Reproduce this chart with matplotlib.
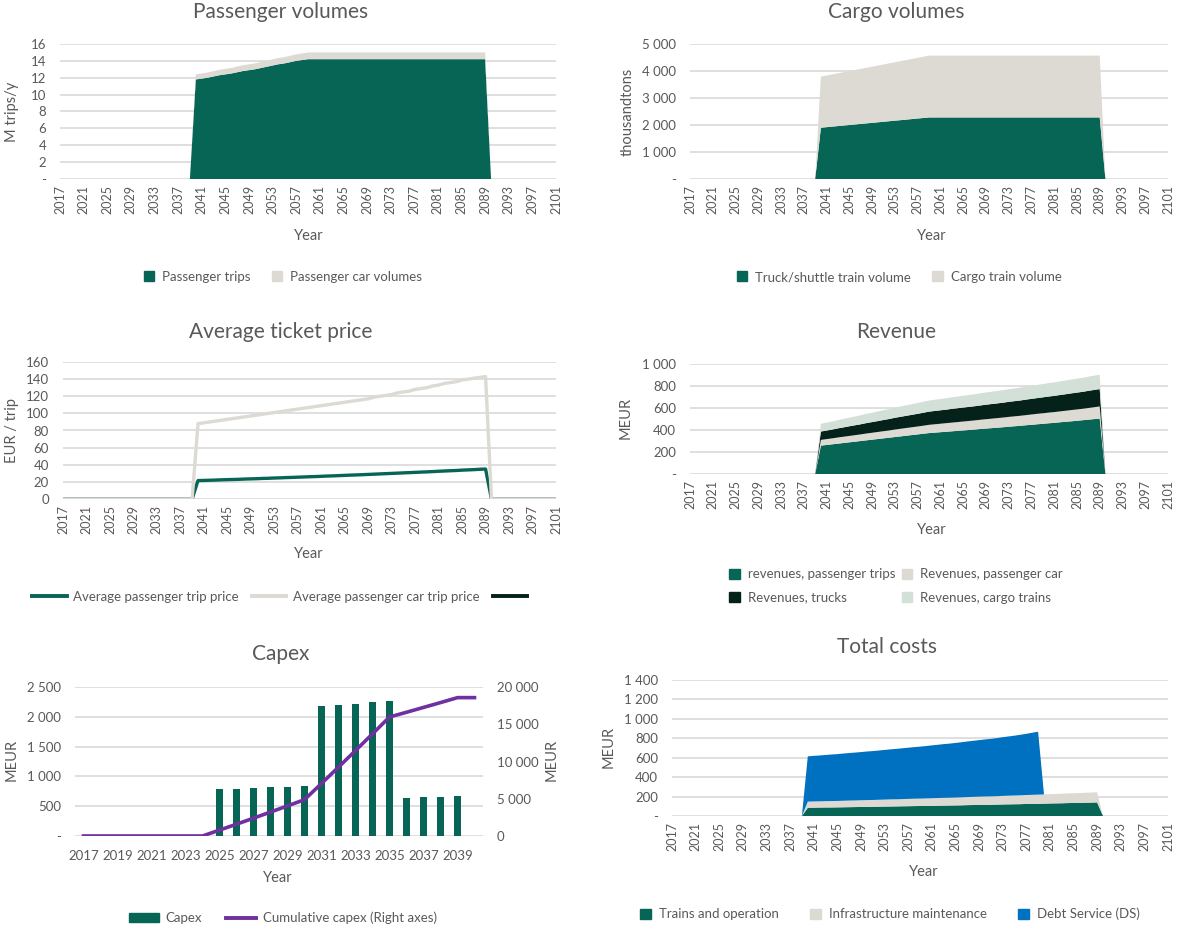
# Traffic, revenue and cost overview - six Excel style panels
import numpy as np
import matplotlib
matplotlib.use('Agg')
import matplotlib.pyplot as plt
from matplotlib.patches import Patch
from matplotlib.lines import Line2D
from matplotlib.ticker import FuncFormatter

plt.rcParams['font.family'] = ['Lato', 'DejaVu Sans']

# ---------------- data ----------------
years = list(range(2017, 2102))          # 85 categories
pre = [0] * 23                           # 2017-2039
post = [0] * 12                          # 2090-2101

# Passenger volumes (M trips/y)
passenger_trips = pre + [11.8, 11.9, 12.0, 12.15, 12.3, 12.4, 12.5, 12.65, 12.8, 12.9,
                         13.0, 13.15, 13.3, 13.45, 13.6, 13.7, 13.85, 14.0, 14.1, 14.2] + [14.2] * 30 + post
passenger_cars = pre + [0.60, 0.61, 0.62, 0.63, 0.64, 0.65, 0.66, 0.67, 0.68, 0.69,
                        0.70, 0.71, 0.72, 0.73, 0.74, 0.75, 0.76, 0.77, 0.78, 0.79] + [0.8] * 30 + post

# Cargo volumes (thousand tons)
truck_volume = pre + [1900, 1920, 1940, 1960, 1980, 2000, 2020, 2040, 2060, 2080,
                      2100, 2120, 2140, 2160, 2180, 2200, 2220, 2240, 2260, 2280] + [2280] * 30 + post
cargo_train_volume = pre + [1890, 1911, 1932, 1953, 1974, 1995, 2016, 2037, 2058, 2079,
                            2100, 2121, 2142, 2163, 2184, 2205, 2226, 2247, 2268, 2290] + [2290] * 30 + post

# Average ticket price (EUR / trip)
trip_price = pre + [21.5, 21.7, 21.9, 22.1, 22.4, 22.6, 22.8, 23.0, 23.3, 23.5,
                    23.7, 24.0, 24.2, 24.5, 24.7, 25.0, 25.2, 25.5, 25.7, 26.0,
                    26.2, 26.5, 26.8, 27.0, 27.3, 27.6, 27.9, 28.1, 28.4, 28.7,
                    29.0, 29.3, 29.6, 29.9, 30.2, 30.5, 30.8, 31.1, 31.4, 31.7,
                    32.0, 32.4, 32.7, 33.0, 33.3, 33.7, 34.0, 34.3, 34.7, 35.0] + post
car_trip_price = pre + [88, 89, 90, 91, 92, 93, 94, 95, 96, 97,
                        98, 99, 100, 101, 102, 103, 104, 105, 106, 107,
                        108, 109, 110, 111, 112, 113, 114, 115, 116, 117,
                        119, 120, 121, 122, 124, 125, 126, 128, 129, 130,
                        132, 133, 135, 136, 137, 139, 140, 141, 142, 143] + post

# Revenue (MEUR)
rev_passenger = pre + [258, 264, 270, 276, 282, 288, 294, 300, 306, 312,
                       318, 324, 330, 336, 342, 348, 354, 360, 366, 372,
                       376, 380, 384, 388, 392, 396, 400, 404, 409, 413,
                       417, 421, 425, 430, 434, 438, 443, 447, 452, 456,
                       461, 465, 470, 475, 479, 484, 489, 494, 499, 504] + post
rev_car = pre + [52, 53, 54, 56, 57, 58, 59, 60, 62, 63,
                 64, 65, 66, 68, 69, 70, 71, 72, 73, 75,
                 76, 77, 78, 79, 80, 81, 82, 83, 84, 85,
                 86, 87, 88, 89, 90, 91, 92, 94, 95, 96,
                 97, 98, 99, 100, 102, 103, 104, 106, 108, 110] + post
rev_trucks = pre + [76, 78, 80, 83, 85, 88, 90, 92, 95, 97,
                    99, 102, 104, 107, 109, 111, 113, 115, 118, 120,
                    121, 122, 123, 125, 126, 127, 128, 129, 130, 132,
                    133, 134, 135, 137, 138, 139, 141, 142, 143, 145,
                    146, 147, 149, 150, 152, 153, 154, 156, 157, 158] + post
rev_cargo = pre + [70, 72, 73, 75, 77, 78, 80, 82, 84, 85,
                   87, 89, 90, 92, 94, 95, 97, 98, 100, 101,
                   102, 103, 104, 105, 106, 107, 108, 109, 110, 111,
                   112, 113, 114, 115, 116, 117, 118, 119, 120, 121,
                   122, 123, 124, 125, 126, 127, 128, 129, 130, 131] + post

# Capex (MEUR), 2017-2040
capex_years = list(range(2017, 2041))
capex = [0] * 8 + [794, 789, 811, 822, 822, 839, 2176, 2192, 2220, 2248, 2259,
                   638, 649, 649, 666] + [0]
capex_cum = [0] * 8 + [794, 1583, 2394, 3216, 4038, 4877, 7053, 9245, 11465, 13713,
                       15972, 16610, 17259, 17908, 18574] + [18574]

# Total costs (MEUR)
cost_trains = pre + [85, 86, 87, 88, 88, 89, 90, 91, 92, 93,
                     94, 95, 96, 97, 98, 99, 100, 101, 102, 103,
                     104, 105, 106, 107, 108, 109, 110, 112, 113, 114,
                     115, 116, 117, 119, 120, 121, 122, 124, 125, 126,
                     127, 129, 130, 131, 133, 134, 135, 137, 138, 140] + post
cost_infra = pre + [63, 64, 64, 65, 66, 66, 67, 68, 68, 69,
                    70, 70, 71, 72, 73, 73, 74, 75, 76, 76,
                    77, 78, 79, 80, 80, 81, 82, 83, 84, 85,
                    86, 86, 87, 88, 89, 90, 91, 92, 93, 94,
                    95, 96, 97, 98, 99, 100, 101, 102, 103, 104] + post
cost_ds = pre + [466, 469, 472, 475, 479, 482, 486, 489, 493, 496,
                 500, 503, 507, 511, 515, 519, 523, 527, 531, 535,
                 539, 544, 548, 553, 557, 562, 567, 572, 577, 582,
                 587, 592, 598, 604, 610, 616, 623, 630, 639, 648] + [0] * 22

# ---------------- style ----------------
GREEN = '#066555'
BEIGE = '#DDD9D3'
DARK = '#04221A'
LIGHT = '#D3E0D8'
BLUE = '#0070C0'
PURPLE = '#7030A0'
TXT = '#595959'
GRID = '#D9D9D9'

W, H = 1177, 930
fig = plt.figure(figsize=(W / 100, H / 100), dpi=100)


def add_ax(x0, y0, x1, y1):
    return fig.add_axes([x0 / W, 1 - y1 / H, (x1 - x0) / W, (y1 - y0) / H])


def txt(x, y, s, size=10.5, rot=0):
    fig.text(x / W, 1 - y / H, s, ha='center', va='center', fontsize=size,
             color=TXT, rotation=rot)


def dash_fmt(v, pos):
    if v == 0:
        return '-'
    return f'{v:,.0f}'.replace(',', ' ')


def plain_fmt(v, pos):
    return f'{v:,.0f}'.replace(',', ' ')


def style(ax, ymax, ystep, fmt=dash_fmt):
    for s in ax.spines.values():
        s.set_visible(False)
    ax.set_ylim(0, ymax)
    ax.set_yticks(np.arange(0, ymax + ystep / 2, ystep))
    ax.yaxis.set_major_formatter(FuncFormatter(fmt))
    ax.grid(axis='y', color=GRID, lw=1.2)
    ax.set_axisbelow(True)
    ax.tick_params(length=0, colors=TXT, labelsize=9.5, pad=10)


def year_axis(ax):
    ax.set_xlim(years[0], years[-1])
    ax.set_xticks(years[::4])
    ax.set_xticklabels([str(y) for y in years[::4]], rotation=90)
    ax.tick_params(axis='x', labelsize=9, pad=4)


def square_legend(labels, colors, x, y, ncol=None, **kw):
    handles = [Patch(color=c) for c in colors]
    fig.legend(handles, labels, loc='center', bbox_to_anchor=(x / W, 1 - y / H),
               ncol=ncol or len(labels), frameon=False, fontsize=9.5,
               labelcolor=TXT, handlelength=0.8, handleheight=0.8,
               handletextpad=0.6, **kw)


# Passenger volumes
ax1 = add_ax(60, 44, 556, 179)
ax1.stackplot(years, passenger_trips, passenger_cars, colors=[GREEN, BEIGE], lw=0)
style(ax1, 16, 2)
year_axis(ax1)
txt(281, 12, 'Passenger volumes', 15)
txt(12, 112, 'M trips/y', 10.5, 90)
txt(309, 236, 'Year', 10.5)
square_legend(['Passenger trips', 'Passenger car volumes'], [GREEN, BEIGE], 283, 277,
              columnspacing=1.6)

# Cargo volumes
ax2 = add_ax(690, 44, 1168, 179)
ax2.stackplot(years, truck_volume, cargo_train_volume, colors=[GREEN, BEIGE], lw=0)
style(ax2, 5000, 1000)
year_axis(ax2)
txt(896, 12, 'Cargo volumes', 15)
txt(628, 112, 'thousandtons', 10.5, 90)
txt(932, 236, 'Year', 10.5)
square_legend(['Truck/shuttle train volume', 'Cargo train volume'], [GREEN, BEIGE], 899, 277,
              columnspacing=1.6)

# Average ticket price (third series has no data, legend entry only)
ax3 = add_ax(63, 362, 556, 499)
ax3.plot(years, trip_price, color=GREEN, lw=2.4, zorder=2)
ax3.plot(years, car_trip_price, color=BEIGE, lw=2.4, zorder=3)
style(ax3, 160, 20, plain_fmt)
year_axis(ax3)
txt(281, 332, 'Average ticket price', 15)
txt(12, 430, 'EUR / trip', 10.5, 90)
txt(309, 554, 'Year', 10.5)
fig.legend([Line2D([], [], color=GREEN, lw=2.8), Line2D([], [], color=BEIGE, lw=2.8),
            Line2D([], [], color=DARK, lw=2.8)],
           ['Average passenger trip price', 'Average passenger car trip price', ''],
           loc='center', bbox_to_anchor=(283 / W, 1 - 597 / H), ncol=3, frameon=False,
           fontsize=9.5, labelcolor=TXT, handlelength=2.6, handletextpad=0.5,
           columnspacing=1.0)

# Revenue
ax4 = add_ax(690, 364, 1168, 474)
ax4.stackplot(years, rev_passenger, rev_car, rev_trucks, rev_cargo,
              colors=[GREEN, BEIGE, DARK, LIGHT], lw=0)
style(ax4, 1000, 200)
year_axis(ax4)
txt(896, 332, 'Revenue', 15)
txt(626, 418, 'MEUR', 10.5, 90)
txt(932, 530, 'Year', 10.5)
square_legend(['revenues, passenger trips', 'Revenues, trucks',
               'Revenues, passenger car', 'Revenues, cargo trains'],
              [GREEN, DARK, BEIGE, LIGHT], 896, 586, ncol=2,
              labelspacing=0.85, columnspacing=0.5)

# Capex
ax5 = add_ax(75, 687, 483, 836)
pos = np.arange(len(capex_years))
ax5.bar(pos, capex, width=0.45, color=GREEN)
style(ax5, 2500, 500)
ax5.set_xlim(-0.5, len(capex_years) - 0.5)
ax5.set_xticks(pos[::2])
ax5.set_xticklabels([str(y) for y in capex_years[::2]])
ax5.tick_params(axis='x', labelsize=9.5, pad=10)
ax5b = ax5.twinx()
ax5b.plot(pos, capex_cum, color=PURPLE, lw=2.6)
for s in ax5b.spines.values():
    s.set_visible(False)
ax5b.set_ylim(0, 20000)
ax5b.set_yticks(np.arange(0, 20001, 5000))
ax5b.yaxis.set_major_formatter(FuncFormatter(plain_fmt))
ax5b.tick_params(length=0, colors=TXT, labelsize=9.5, pad=10)
txt(281, 654, 'Capex', 15)
txt(12, 760, 'MEUR', 10.5, 90)
txt(552, 760, 'MEUR', 10.5, 90)
txt(278, 878, 'Year', 10.5)
fig.legend([Patch(color=GREEN), Line2D([], [], color=PURPLE, lw=2.8)],
           ['Capex', 'Cumulative capex (Right axes)'],
           loc='center', bbox_to_anchor=(283 / W, 1 - 918 / H), ncol=2, frameon=False,
           fontsize=9.5, labelcolor=TXT, handlelength=2.3, handleheight=0.7,
           handletextpad=0.5, columnspacing=1.8)

# Total costs
ax6 = add_ax(672, 680, 1168, 816)
ax6.stackplot(years, cost_trains, cost_infra, cost_ds, colors=[GREEN, BEIGE, BLUE], lw=0)
style(ax6, 1400, 200)
year_axis(ax6)
txt(887, 647, 'Total costs', 15)
txt(609, 747, 'MEUR', 10.5, 90)
txt(924, 872, 'Year', 10.5)
square_legend(['Trains and operation', 'Infrastructure maintenance', 'Debt Service (DS)'],
              [GREEN, BEIGE, BLUE], 890, 914, columnspacing=2.4)

fig.savefig('out.png', dpi=100)
